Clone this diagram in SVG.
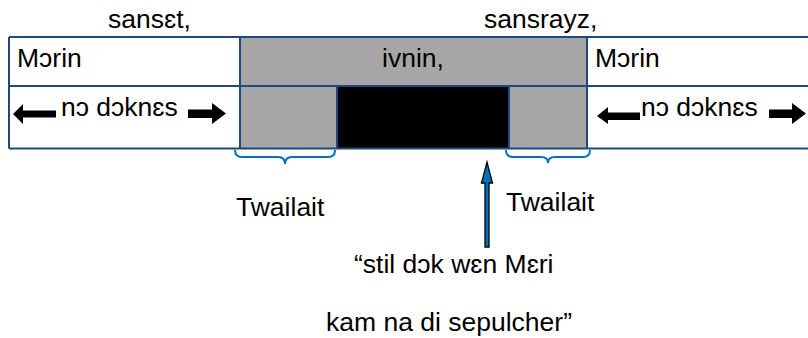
<svg xmlns="http://www.w3.org/2000/svg" width="808" height="338" viewBox="0 0 808 338">
<style>
text{font-family:"Liberation Sans",Arial,sans-serif;font-size:26.5px;fill:#000}
.tl{stroke:#1F497D;stroke-width:2;fill:none}
.brace{stroke:#0070C0;stroke-width:2;fill:none}
.blk{fill:#000}
</style>
<rect width="808" height="338" fill="#fff"/>
<g id="table">
<rect x="240" y="37" width="347" height="49" fill="#A6A6A6"/>
<rect x="240" y="86" width="97" height="62" fill="#A6A6A6"/>
<rect x="337" y="86" width="172" height="62" fill="#000"/>
<rect x="509" y="86" width="78" height="62" fill="#A6A6A6"/>
<path class="tl" d="M9 37H808M9 86H808M9 148.5H808M9 37V148.5M240 37V148.5M587 37V148.5M337 86V148.5M509 86V148.5"/>
</g>
<g id="header-sunset"><text x="108" y="28">sansɛt,</text></g>
<g id="header-sunrise"><text x="484" y="28">sansrayz,</text></g>
<g id="cell-morin-left"><text x="17" y="67">Mɔrin</text></g>
<g id="cell-ivnin"><text x="413" y="67" text-anchor="middle">ivnin,</text></g>
<g id="cell-morin-right"><text x="595" y="67">Mɔrin</text></g>
<g id="cell-nodoknes-left">
<polygon class="blk" points="13,114 23,104 23,110.5 56,110.5 56,117.5 23,117.5 23,124"/>
<text x="61" y="116">nɔ dɔknɛs</text>
<polygon class="blk" points="188,109.5 212,109.5 212,103 226,113.5 212,124 212,118 188,118"/>
</g>
<g id="cell-nodoknes-right">
<polygon class="blk" points="597,116 608,107 608,112.5 640,112.5 640,120 608,120 608,124"/>
<text x="641" y="116">nɔ dɔknɛs</text>
<polygon class="blk" points="769,109.5 792,109.5 792,103 806,113.5 792,124 792,118 769,118"/>
</g>
<g id="connectors">
<path class="brace" d="M235 150Q235 157 242 157H278Q285 157 285 164Q285 157 292 157H328Q335 157 335 150"/>
<path class="brace" d="M506 150Q506 157 513 157H541Q548 157 548 163Q548 157 555 157H583Q590 157 590 150"/>
<polygon points="485,247 485,183 481.5,183 487,162 492.5,183 489,183 489,247" fill="#0070C0" stroke="#000" stroke-width="1.3"/>
</g>
<g id="label-twilight-left"><text x="236" y="216">Twailait</text></g>
<g id="label-twilight-right"><text x="506" y="211">Twailait</text></g>
<g id="label-quote">
<text x="354" y="273">“stil dɔk wɛn Mɛri</text>
<text x="326" y="331">kam na di sepulcher”</text>
</g>
</svg>
